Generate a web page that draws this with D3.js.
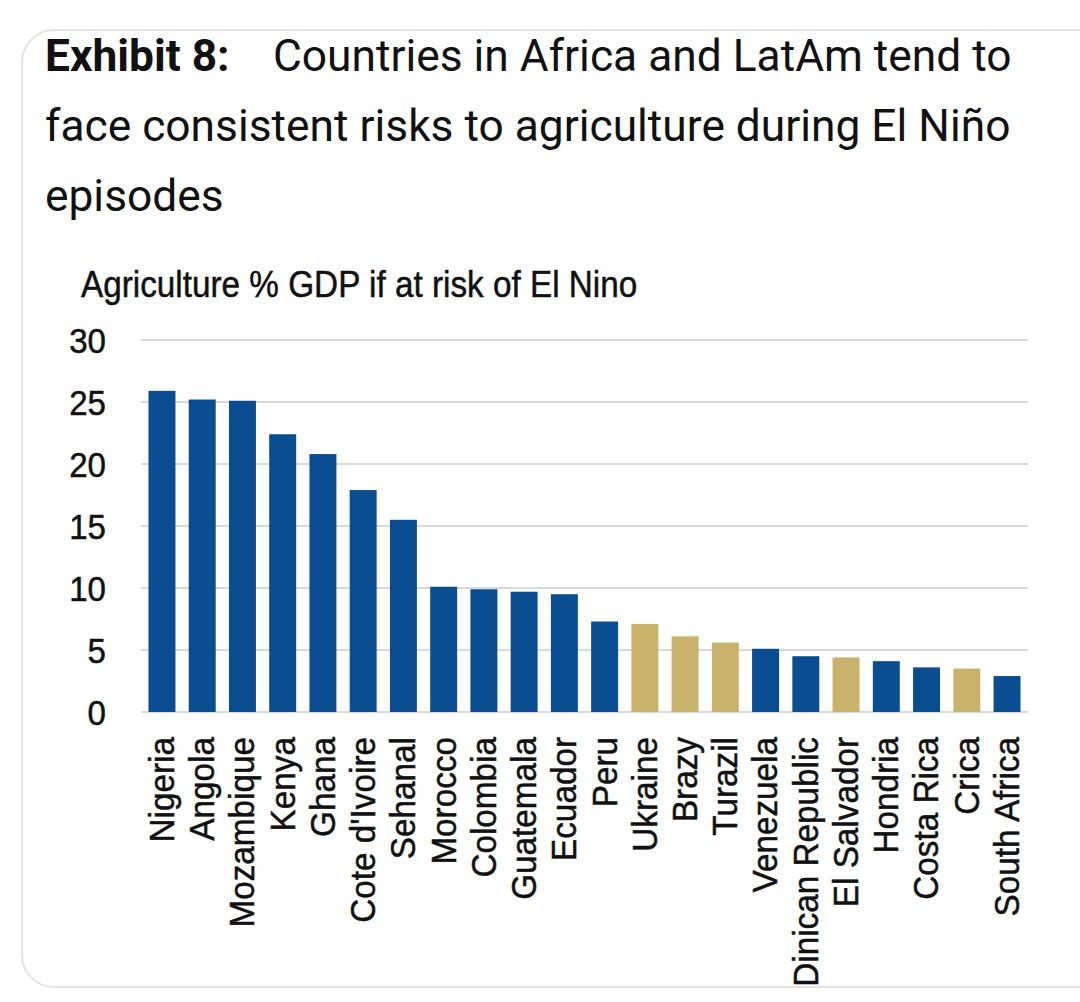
<!DOCTYPE html>
<html>
<head>
<meta charset="utf-8">
<script src="https://cdn.jsdelivr.net/npm/d3@7"></script>
<style>
  html, body { margin: 0; padding: 0; background: #ffffff; }
  svg { display: block; }
</style>
</head>
<body>
<svg id="chart" width="1080" height="1002"></svg>
<script>
// ---- data ----
const categories = ["Nigeria","Angola","Mozambique","Kenya","Ghana","Cote d'Ivoire","Sehanal","Morocco","Colombia","Guatemala","Ecuador","Peru","Ukraine","Brazy","Turazil","Venezuela","Dinican Republic","El Salvador","Hondria","Costa Rica","Crica","South Africa"];
const values = [25.9,25.2,25.1,22.4,20.8,17.9,15.5,10.1,9.9,9.7,9.5,7.3,7.1,6.1,5.6,5.1,4.5,4.4,4.1,3.6,3.5,2.9];
const highlighted = ["Ukraine","Brazy","Turazil","El Salvador","Crica"];
const yTicks = [0,5,10,15,20,25,30];
const titleBold = "Exhibit 8:";
const titleLines = ["Countries in Africa and LatAm tend to", "face consistent risks to agriculture during El Niño", "episodes"];
const subtitle = "Agriculture % GDP if at risk of El Nino";

const BLUE = "#0a4e91";
const GOLD = "#c9b26b";
const GRID = "#d9d9d9";
const TXT = "#111111";
const chartFont = "'Liberation Sans', Arial, sans-serif";

const svg = d3.select("#chart");

// card
svg.append("rect")
  .attr("x", 22).attr("y", 30).attr("width", 1100).attr("height", 957)
  .attr("rx", 32).attr("ry", 32)
  .attr("fill", "#ffffff").attr("stroke", "#e4e4e4").attr("stroke-width", 2);

// title
const title = svg.append("text")
  .attr("font-family", "Roboto, 'Open Sans', sans-serif")
  .attr("font-size", 44.3).attr("fill", TXT);
title.append("tspan").attr("x", 45).attr("y", 71).attr("font-weight", 700).text(titleBold);
title.append("tspan").attr("x", 273).attr("y", 71).text(titleLines[0]);
title.append("tspan").attr("x", 45).attr("y", 141).text(titleLines[1]);
title.append("tspan").attr("x", 45).attr("y", 211).text(titleLines[2]);

// subtitle (condensed)
svg.append("text")
  .attr("transform", "translate(81,297) scale(0.9,1)")
  .attr("font-family", chartFont).attr("font-size", 37).attr("fill", TXT)
  .attr("stroke", TXT).attr("stroke-width", 0.5)
  .text(subtitle);

// scales
const x = d3.scaleBand().domain(categories).range([141, 1028]).paddingInner(0.33).paddingOuter(0.186);
const y = d3.scaleLinear().domain([0, 30]).range([712, 340]);

// gridlines
svg.append("g").selectAll("line").data(yTicks).join("line")
  .attr("x1", 141).attr("x2", 1028)
  .attr("y1", d => y(d)).attr("y2", d => y(d))
  .attr("stroke", GRID).attr("stroke-width", 2);

// y axis labels
svg.append("g").selectAll("text").data(yTicks).join("text")
  .attr("transform", d => `translate(106,${y(d)}) scale(0.92,1)`)
  .attr("dy", "0.36em")
  .attr("text-anchor", "end")
  .attr("font-family", chartFont).attr("font-size", 36).attr("fill", TXT)
  .attr("stroke", TXT).attr("stroke-width", 0.5)
  .text(d => d);

// bars
svg.append("g").selectAll("rect").data(categories).join("rect")
  .attr("x", d => x(d))
  .attr("y", (d, i) => y(values[i]))
  .attr("width", x.bandwidth())
  .attr("height", (d, i) => y(0) - y(values[i]))
  .attr("fill", d => highlighted.includes(d) ? GOLD : BLUE);

// x labels
svg.append("g").selectAll("text").data(categories).join("text")
  .attr("transform", d => `translate(${x(d) + x.bandwidth() / 2},737) rotate(-90) scale(0.925,1)`)
  .attr("dy", "0.33em")
  .attr("text-anchor", "end")
  .attr("font-family", chartFont).attr("font-size", 36).attr("fill", TXT)
  .attr("stroke", TXT).attr("stroke-width", 0.5)
  .text(d => d);
</script>
</body>
</html>
